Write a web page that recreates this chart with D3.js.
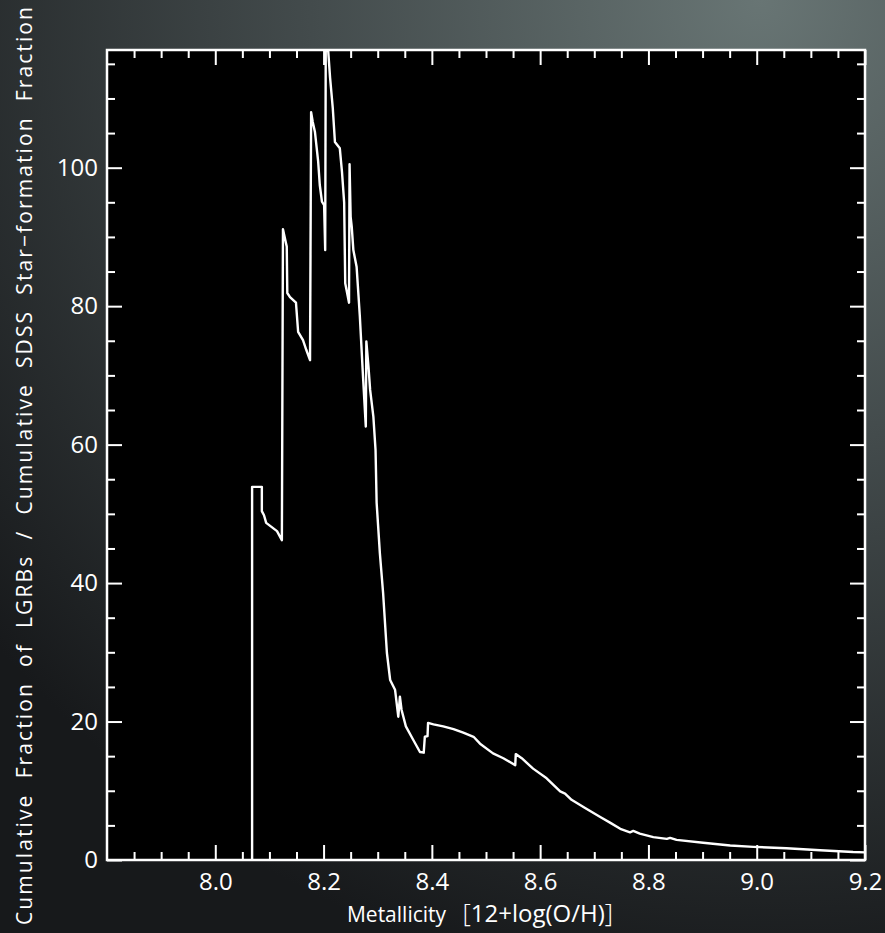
<!DOCTYPE html>
<html>
<head>
<meta charset="utf-8">
<script src="https://cdn.jsdelivr.net/npm/d3@7"></script>
<style>
  html, body { margin: 0; padding: 0; background: #222; }
  svg { display: block; }
</style>
</head>
<body>
<div id="chart"></div>
<script>
// Metallicity 12+log(O/H) and the LGRB / SDSS cumulative fraction ratio
const metallicity = [8.068,8.068,8.086,8.086,8.090,8.094,8.114,8.123,8.125,8.130,8.132,8.133,8.138,8.149,8.153,8.162,8.168,8.175,8.177,8.180,8.184,8.190,8.193,8.197,8.201,8.203,8.204,8.208,8.212,8.217,8.221,8.230,8.234,8.238,8.240,8.247,8.248,8.250,8.252,8.255,8.261,8.267,8.273,8.278,8.279,8.283,8.286,8.292,8.296,8.298,8.304,8.310,8.317,8.323,8.332,8.338,8.341,8.344,8.352,8.366,8.378,8.385,8.387,8.392,8.393,8.403,8.421,8.440,8.458,8.477,8.489,8.513,8.532,8.554,8.555,8.566,8.587,8.612,8.637,8.646,8.658,8.683,8.711,8.729,8.748,8.766,8.772,8.784,8.809,8.834,8.840,8.852,8.901,8.951,8.994,9.055,9.117,9.178,9.2];
const ratio = [0,53.9,53.9,50.4,49.8,48.7,47.5,46.2,91.1,89.3,88.6,81.9,81.3,80.5,76.3,75.1,73.7,72.2,108.0,106.6,105.2,100.9,97.5,95.1,94.6,88.1,116.7,117.5,113.0,108.6,103.7,102.8,99.4,95.0,83.3,80.5,100.5,92.9,91.5,88.1,85.7,78.5,69.6,62.6,74.9,71.2,67.9,64.0,59.2,51.6,44.3,38.5,29.9,26.0,24.6,20.7,23.6,21.7,19.3,17.3,15.6,15.5,17.8,17.9,19.8,19.6,19.3,18.9,18.4,17.8,16.8,15.4,14.7,13.7,15.3,14.7,13.2,11.8,9.9,9.6,8.7,7.5,6.2,5.4,4.5,4.0,4.2,3.8,3.3,3.05,3.2,2.9,2.5,2.1,1.9,1.7,1.4,1.15,1.1];

const xTicks = [8.0, 8.2, 8.4, 8.6, 8.8, 9.0, 9.2];
const xTickLabels = ["8.0", "8.2", "8.4", "8.6", "8.8", "9.0", "9.2"];
const yTicks = [0, 20, 40, 60, 80, 100];
const yTickLabels = ["0", "20", "40", "60", "80", "100"];

const xTitle = "Metallicity";
const xTitleUnit = "12+log(O/H)";
const yTitle = "Cumulative  Fraction  of  LGRBs  /  Cumulative  SDSS  Star\u2212formation  Fraction";

function drawChart() {
  const width = 885;
  const height = 933;
  const left = 107, right = 865, top = 50, bottom = 860;

  const x = d3.scaleLinear().domain([7.8, 9.2]).range([left, right]);
  const y = d3.scaleLinear().domain([0, 117]).range([bottom, top]);

  const svg = d3.select("#chart")
    .append("svg")
    .attr("width", width)
    .attr("height", height);

  // slide-like dark background, lighter towards the top right
  const defs = svg.append("defs");
  const grad = defs.append("radialGradient")
    .attr("id", "bg")
    .attr("gradientUnits", "userSpaceOnUse")
    .attr("cx", 760).attr("cy", 0).attr("r", 1000);
  grad.append("stop").attr("offset", "0%").attr("stop-color", "#687574");
  grad.append("stop").attr("offset", "45%").attr("stop-color", "#434b4c");
  grad.append("stop").attr("offset", "100%").attr("stop-color", "#17191b");

  defs.append("clipPath").attr("id", "plot-clip")
    .append("rect")
    .attr("x", left).attr("y", top)
    .attr("width", right - left).attr("height", bottom - top);

  svg.append("rect")
    .attr("width", width).attr("height", height)
    .attr("fill", "url(#bg)");

  svg.append("rect")
    .attr("x", left).attr("y", top)
    .attr("width", right - left).attr("height", bottom - top)
    .attr("fill", "#000");

  // data line
  const pts = metallicity.map((m, i) => [m, ratio[i]]);
  const line = d3.line().x((d) => x(d[0])).y((d) => y(d[1]));
  svg.append("path")
    .datum(pts)
    .attr("clip-path", "url(#plot-clip)")
    .attr("d", line)
    .attr("fill", "none")
    .attr("stroke", "#fff")
    .attr("stroke-width", 2.4)
    .attr("stroke-linejoin", "round");

  // ticks on all four sides
  const xMinor = d3.range(7.85, 9.2, 0.05).filter((v) => Math.abs(v * 5 - Math.round(v * 5)) > 1e-6);
  const yMinor = d3.range(5, 117, 5).filter((v) => v % 20 !== 0);
  const font = "'Open Sans', 'DejaVu Sans', sans-serif";

  function styleAxis(g) {
    g.select(".domain").remove();
    g.selectAll("line").attr("stroke", "#fff").attr("stroke-width", 2);
    g.selectAll("text").attr("fill", "#fff").style("font-family", font).style("font-size", "24px");
  }

  svg.append("g").attr("transform", `translate(0,${bottom})`)
    .call(d3.axisBottom(x).tickValues(xTicks).tickFormat((d, i) => xTickLabels[i]).tickSize(-15).tickPadding(13))
    .call(styleAxis);
  svg.append("g").attr("transform", `translate(0,${bottom})`)
    .call(d3.axisBottom(x).tickValues(xMinor).tickFormat("").tickSize(-8))
    .call(styleAxis);
  svg.append("g").attr("transform", `translate(0,${top})`)
    .call(d3.axisTop(x).tickValues(xTicks).tickFormat("").tickSize(-15))
    .call(styleAxis);
  svg.append("g").attr("transform", `translate(0,${top})`)
    .call(d3.axisTop(x).tickValues(xMinor).tickFormat("").tickSize(-8))
    .call(styleAxis);

  svg.append("g").attr("transform", `translate(${left},0)`)
    .call(d3.axisLeft(y).tickValues(yTicks).tickFormat((d, i) => yTickLabels[i]).tickSize(-15).tickPadding(9))
    .call(styleAxis);
  svg.append("g").attr("transform", `translate(${left},0)`)
    .call(d3.axisLeft(y).tickValues(yMinor).tickFormat("").tickSize(-8))
    .call(styleAxis);
  svg.append("g").attr("transform", `translate(${right},0)`)
    .call(d3.axisRight(y).tickValues(yTicks).tickFormat("").tickSize(-15))
    .call(styleAxis);
  svg.append("g").attr("transform", `translate(${right},0)`)
    .call(d3.axisRight(y).tickValues(yMinor).tickFormat("").tickSize(-8))
    .call(styleAxis);

  // frame
  svg.append("rect")
    .attr("x", left).attr("y", top)
    .attr("width", right - left).attr("height", bottom - top)
    .attr("fill", "none")
    .attr("stroke", "#fff")
    .attr("stroke-width", 2.5);

  // axis titles
  const xt = svg.append("text")
    .attr("x", 480).attr("y", 922)
    .attr("text-anchor", "middle")
    .attr("fill", "#fff")
    .style("font-family", font)
    .style("white-space", "pre");
  xt.append("tspan").style("font-size", "21px").text(xTitle + "   ");
  xt.append("tspan").style("font-size", "26px").style("font-weight", "300").text("[");
  xt.append("tspan").style("font-size", "24px").text(xTitleUnit);
  xt.append("tspan").style("font-size", "26px").style("font-weight", "300").text("]");

  svg.append("text")
    .attr("transform", "translate(32,466) rotate(-90)")
    .attr("text-anchor", "middle")
    .attr("fill", "#fff")
    .attr("textLength", 918)
    .attr("lengthAdjust", "spacing")
    .style("font-family", font)
    .style("font-size", "21px")
    .style("white-space", "pre")
    .text(yTitle);
}

window.onload = function () {
  drawChart();
};
</script>
</body>
</html>
